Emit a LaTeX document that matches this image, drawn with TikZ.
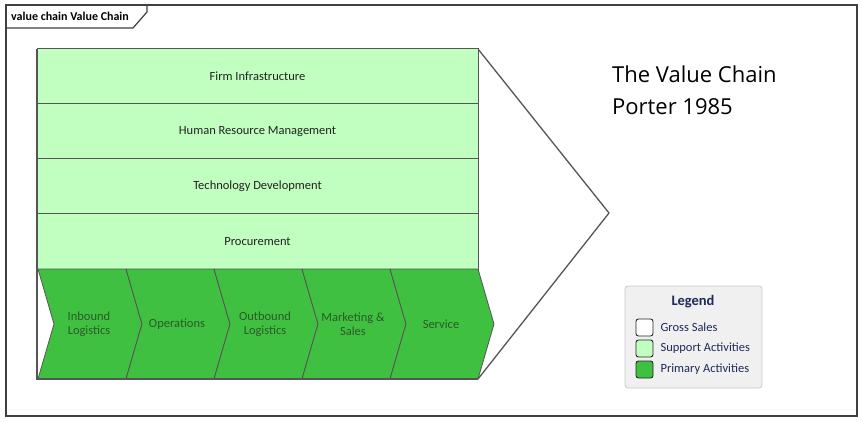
\documentclass[tikz,border=0pt]{standalone}
\usepackage{fontspec}
\setmainfont{Carlito}
\newfontfamily\titlefont{Open Sans}
\definecolor{framecol}{HTML}{404040}
\definecolor{linecol}{HTML}{555555}
\definecolor{supfill}{HTML}{C0FFC0}
\definecolor{primfill}{HTML}{40C040}
\definecolor{primtext}{HTML}{2A5A2A}
\definecolor{suptext}{HTML}{222222}
\definecolor{legbg}{HTML}{F0F0F0}
\definecolor{legborder}{HTML}{C8C8C8}
\definecolor{legtext}{HTML}{1F2A5C}
\tikzset{
  suprow/.style={fill=supfill, draw=linecol, line width=1pt},
  primchev/.style={fill=primfill, draw=linecol, line width=0.8pt},
  suplabel/.style={font=\fontsize{12.5}{14}\selectfont, text=suptext},
  primlabel/.style={font=\fontsize{12.5}{14}\selectfont, text=primtext, align=center},
  swatch/.style={draw=black!85, line width=0.9pt, rounded corners=2.5pt},
  leglabel/.style={font=\fontsize{12.5}{14}\selectfont, text=legtext, anchor=west},
}
\begin{document}
\begin{tikzpicture}[x=1pt,y=-1pt]
\useasboundingbox (0,0) rectangle (862,422);
\fill[white] (0,0) rectangle (862,422);
% frame
\draw[framecol, line width=1.5pt] (6,5) rectangle (857,416);
\draw[framecol, line width=1.2pt] (6,28) -- (133,28) -- (147,12) -- (147,5);
\node[anchor=west, font=\bfseries\fontsize{12}{14}\selectfont, inner sep=0] (tab) at (11,16.5) {value chain Value Chain};
% big arrow
\filldraw[fill=white, draw=linecol, line width=1.3pt] (478,49) -- (609,213) -- (478,379);
% support rows
\draw[suprow] (37,49) rectangle (478,104);
\draw[suprow] (37,104) rectangle (478,159);
\draw[suprow] (37,159) rectangle (478,214);
\draw[suprow] (37,214) rectangle (478,269);
\node[suplabel] (firm) at (257.5,76.5) {Firm Infrastructure};
\node[suplabel] (hrm) at (257.5,131.5) {Human Resource Management};
\node[suplabel] (tech) at (257.5,186.5) {Technology Development};
\node[suplabel] (proc) at (257.5,241.5) {Procurement};
% primary chevrons
\foreach \i in {0,...,4}{
  \pgfmathsetmacro{\xa}{38+88*\i}
  \draw[primchev] (\xa,269) -- ({\xa+88},269) -- ({\xa+104},324) -- ({\xa+88},379) -- (\xa,379) -- ({\xa+16},324) -- cycle;
}
\draw[linecol, line width=1.3pt] (37,49) -- (37,379) -- (478,379);
\node[primlabel] (inb) at (89,324) {Inbound\\Logistics};
\node[primlabel] (ops) at (177,324) {Operations};
\node[primlabel] (outb) at (265,324) {Outbound\\Logistics};
\node[primlabel] (mkt) at (353,324) {Marketing \&\\Sales};
\node[primlabel] (svc) at (441,324) {Service};
% title
\node[anchor=base west, inner sep=0, font=\titlefont\fontsize{22}{26}\selectfont] (t1) at (612,83) {The Value Chain};
\node[anchor=base west, inner sep=0, font=\titlefont\fontsize{22}{26}\selectfont] (t2) at (612,115) {Porter 1985};
% legend
\filldraw[fill=legbg, draw=legborder, line width=0.8pt, rounded corners=3pt] (625,286) rectangle (762,388);
\node[font=\bfseries\fontsize{14.5}{16}\selectfont, text=legtext] (leg) at (693,302) {Legend};
\filldraw[swatch, fill=white] (636,319) rectangle (653,336);
\filldraw[swatch, fill=supfill] (636,340) rectangle (653,357);
\filldraw[swatch, fill=primfill] (636,361) rectangle (653,378);
\node[leglabel] (l1) at (657,327.5) {Gross Sales};
\node[leglabel] (l2) at (657,348.5) {Support Activities};
\node[leglabel] (l3) at (657,369.5) {Primary Activities};
\end{tikzpicture}
\end{document}
